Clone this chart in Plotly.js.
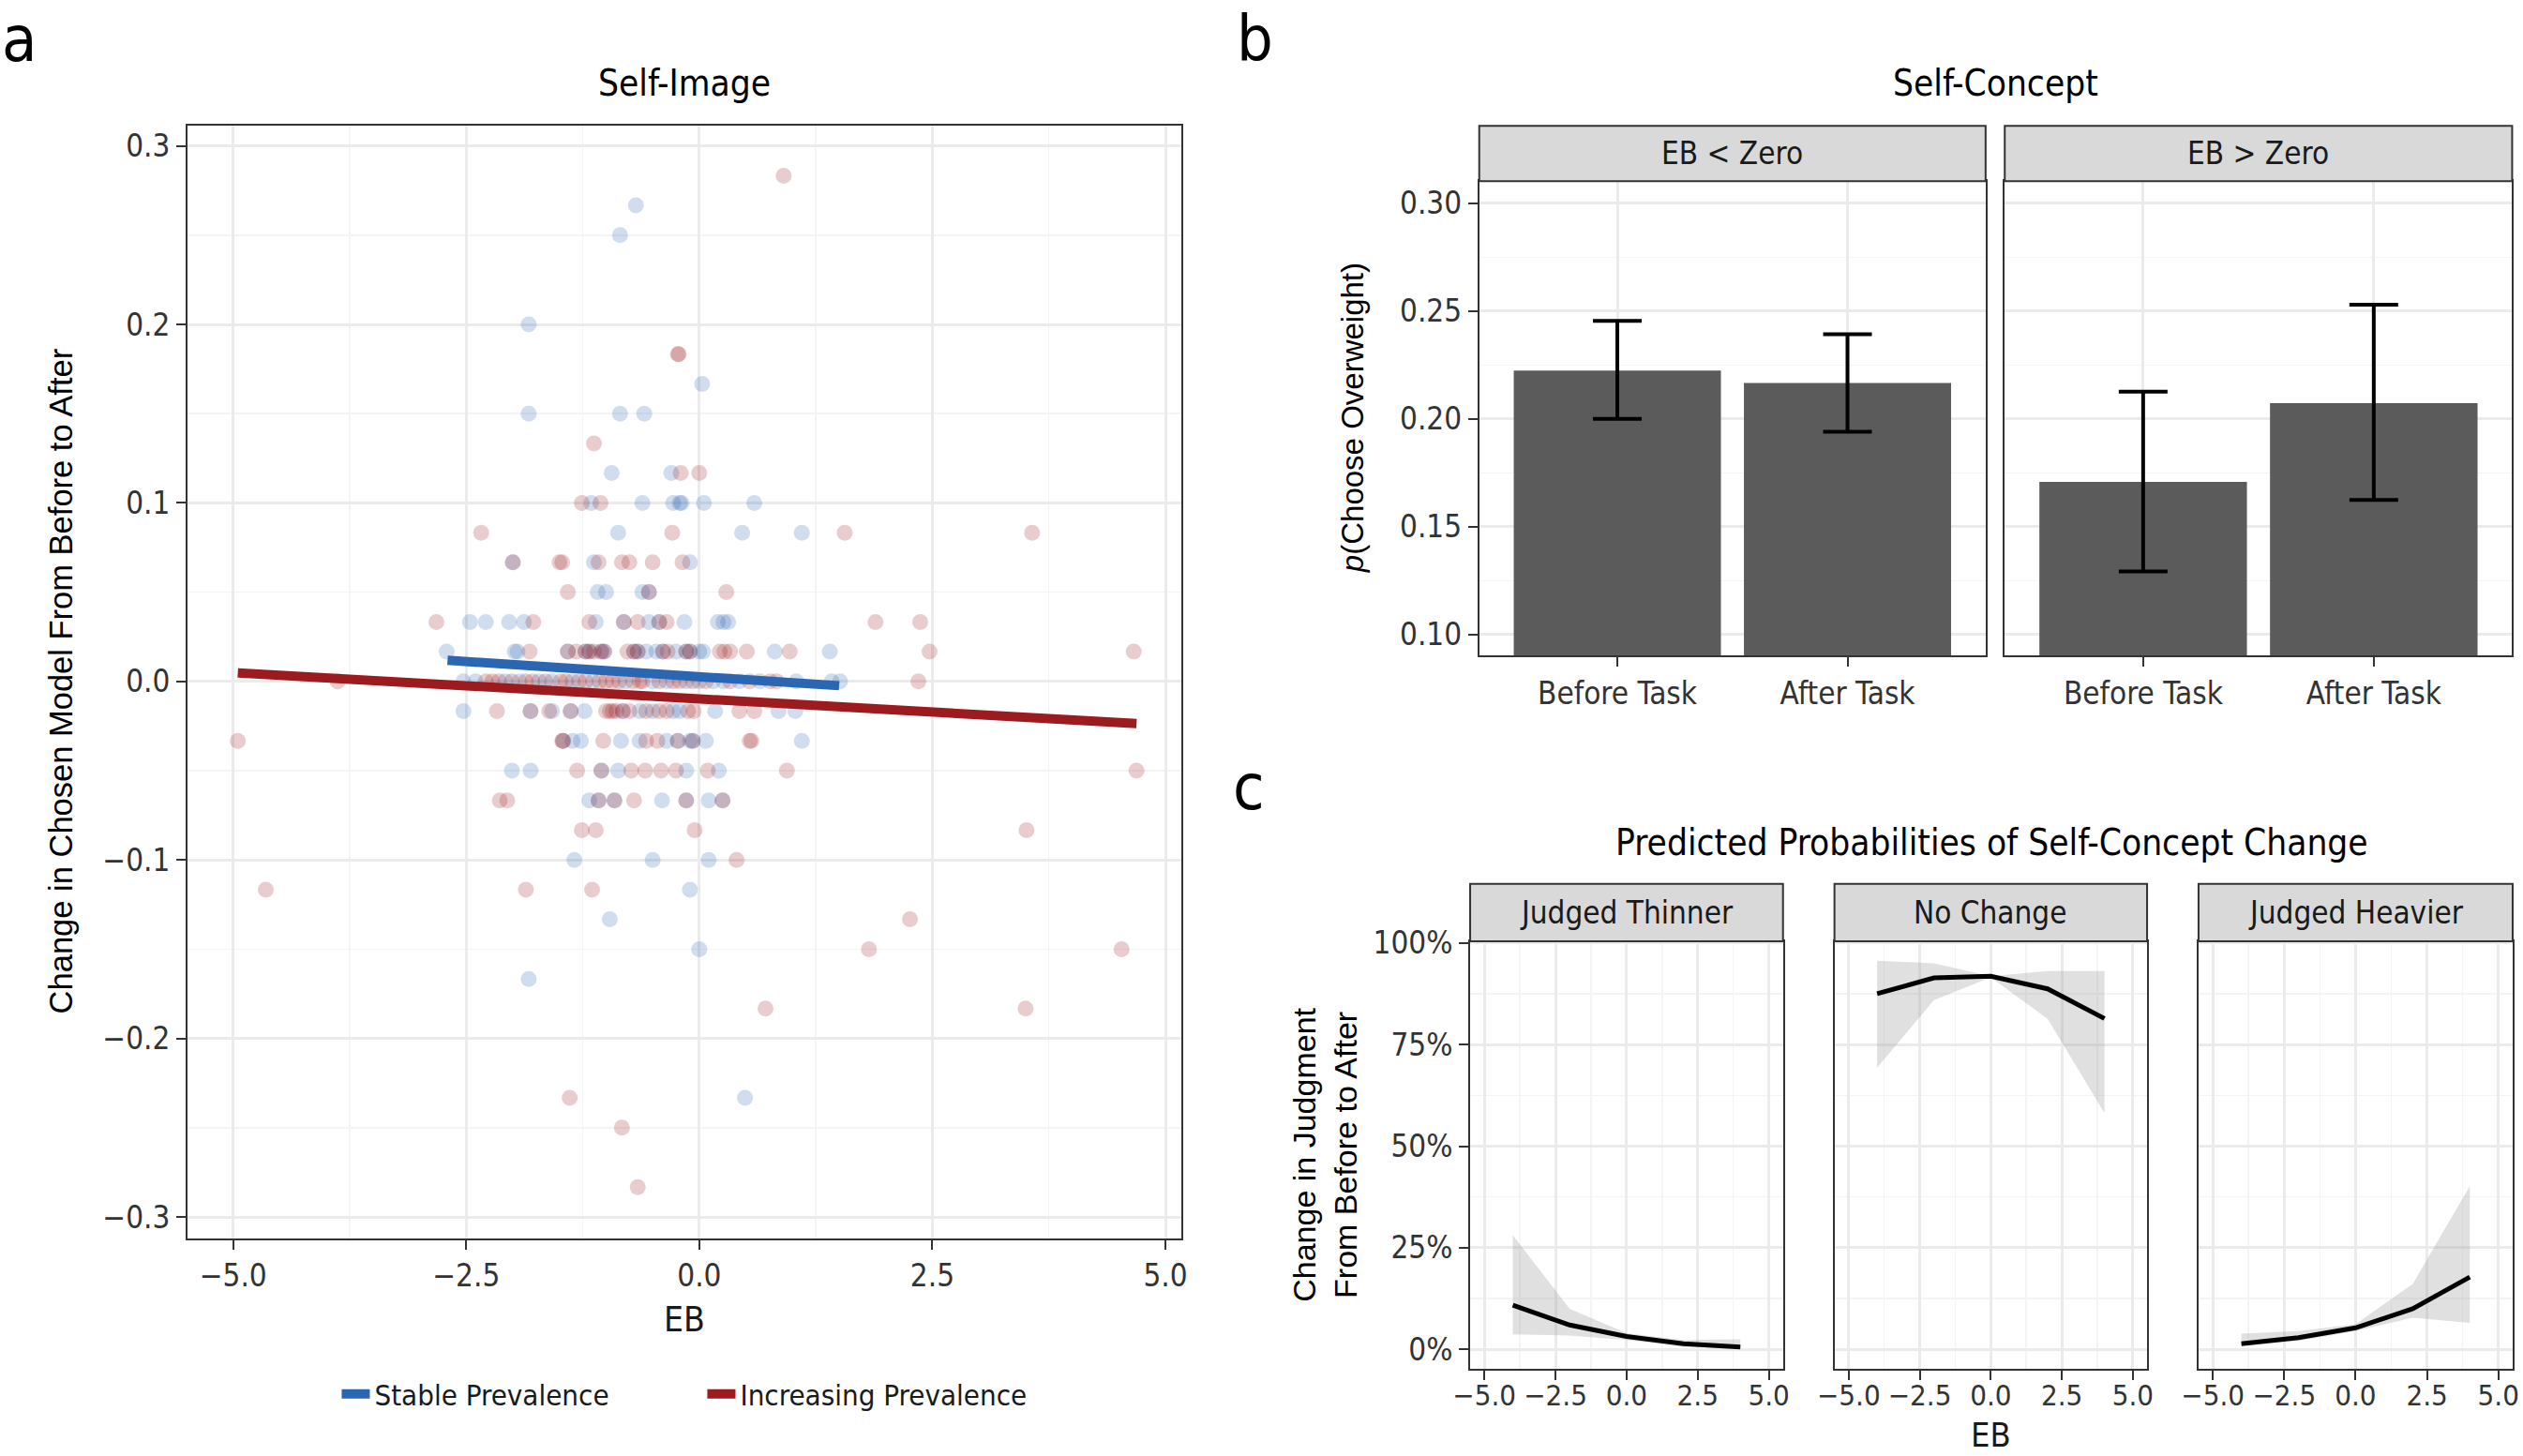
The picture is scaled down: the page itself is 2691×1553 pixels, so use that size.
<!DOCTYPE html>
<html>
<head>
<meta charset="utf-8">
<script src="https://cdn.plot.ly/plotly-3.0.1.min.js"></script>
<style>
  html, body { margin: 0; padding: 0; background: #fff; }
  #myDiv { width: 2691px; height: 1553px; }
</style>
</head>
<body>
<div id="myDiv"></div>
<script>
// ---- panel a : Self-Image scatter ----
// Stable Prevalence points (EB, change in chosen model)
var stableX = [
  -0.68, -0.85, -1.83, 0.03,
  -1.83, -0.85, -0.59,
  -0.94, -0.30,
  -1.16, -0.61, -0.28, -0.21, -0.19, 0.05, 0.59,
  -0.87, 0.46, 1.10,
  -2.00, -1.13, -0.10,
  -1.09, -1.00, -0.61, -0.54,
  -2.46, -2.29, -2.04, -1.88, -1.11, -0.81, -0.54, -0.43, -0.16, 0.20, 0.26, 0.31,
  -2.71, -1.95, -1.98, -1.41, -1.22, -1.18, -1.05, -1.02, -0.70, -0.66, -0.57, -0.46, -0.39, -0.25, -0.14, -0.10, 0.00, 0.04, 0.81, 1.40,
  -2.53, -2.40, -2.08, -1.93, -1.72, -1.58, -1.36, -1.14, -0.79, -0.50, -0.35, -0.14, 0.00, 0.15, 0.26, 0.43, 0.65, 1.04, 1.42, 1.51,
  -2.53, -1.81, -1.58, -1.38, -1.23, -0.82, -0.64, -0.50, -0.28, -0.21, 0.17, 0.85, 1.03,
  -1.46, -1.36, -1.27, -0.84, -0.64, -0.35, -0.23, -0.10, -0.07, 0.07, 1.10,
  -2.01, -1.81, -1.05, -0.87, -0.14, 0.21,
  -1.18, -1.08, -0.91, -0.40, -0.14, 0.10, 0.25,
  -1.34, -0.50, 0.10,
  -0.10, -0.96, 0.00, -1.83, 0.49
];
var stableY = [
  0.2667, 0.25, 0.2, 0.1667,
  0.15, 0.15, 0.15,
  0.1167, 0.1167,
  0.1, 0.1, 0.1, 0.1, 0.1, 0.1, 0.1,
  0.0833, 0.0833, 0.0833,
  0.0667, 0.0667, 0.0667,
  0.05, 0.05, 0.05, 0.05,
  0.0333, 0.0333, 0.0333, 0.0333, 0.0333, 0.0333, 0.0333, 0.0333, 0.0333, 0.0333, 0.0333, 0.0333,
  0.0167, 0.0167, 0.0167, 0.0167, 0.0167, 0.0167, 0.0167, 0.0167, 0.0167, 0.0167, 0.0167, 0.0167, 0.0167, 0.0167, 0.0167, 0.0167, 0.0167, 0.0167, 0.0167, 0.0167,
  0, 0, 0, 0, 0, 0, 0, 0, 0, 0, 0, 0, 0, 0, 0, 0, 0, 0, 0, 0,
  -0.0167, -0.0167, -0.0167, -0.0167, -0.0167, -0.0167, -0.0167, -0.0167, -0.0167, -0.0167, -0.0167, -0.0167, -0.0167,
  -0.0333, -0.0333, -0.0333, -0.0333, -0.0333, -0.0333, -0.0333, -0.0333, -0.0333, -0.0333, -0.0333,
  -0.05, -0.05, -0.05, -0.05, -0.05, -0.05,
  -0.0667, -0.0667, -0.0667, -0.0667, -0.0667, -0.0667, -0.0667,
  -0.1, -0.1, -0.1,
  -0.1167, -0.1333, -0.15, -0.1667, -0.2333
];

// Increasing Prevalence points
var increasingX = [
  0.905,
  -0.23, -0.22,
  -1.13,
  -0.20, 0.00,
  -1.26, -1.06,
  -2.34, -0.29, 1.56, 3.57,
  -2.00, -1.50, -1.47, -1.08, -0.83, -0.75, -0.50, -0.18,
  -1.41, -0.54, 0.29,
  -2.82, -1.78, -1.18, -0.81, -0.66, -0.43, -0.35, 1.89, 2.37,
  -1.82, -1.41, -1.32, -1.22, -1.18, -1.13, -1.05, -1.02, -0.77, -0.70, -0.66, -0.39, -0.34, -0.14, -0.10, 0.22, 0.27, 0.33, 0.51, 0.97, 2.47, 4.66,
  -3.88, -2.29, -2.22, -2.15, -2.01, -1.86, -1.79, -1.65, -1.49, -1.43, -1.29, -1.22, -1.07, -1.00, -0.93, -0.86, -0.71, -0.64, -0.61, -0.43, -0.28, -0.21, -0.07, 0.07, 0.33, 0.54, 0.76, 0.83, 2.35,
  -2.17, -1.81, -1.61, -1.38, -1.00, -0.96, -0.93, -0.89, -0.82, -0.75, -0.57, -0.43, -0.35, -0.12, -0.06, 0.43, 0.59,
  -4.95, -1.47, -1.46, -1.03, -0.57, -0.45, -0.23, -0.07, 0.54, 0.56,
  -1.31, -1.05, -0.73, -0.58, -0.41, -0.25, 0.09, 0.94, 4.69,
  -2.14, -2.06, -1.08, -0.91, -0.70, -0.14, 0.25,
  -1.26, -1.11, -0.05, 3.51,
  0.40,
  -4.65, -1.86, -1.15,
  2.26,
  1.82, 4.53,
  0.71, 3.50,
  -1.39, -0.83, -0.66
];
var increasingY = [
  0.2833,
  0.1833, 0.1833,
  0.1333,
  0.1167, 0.1167,
  0.1, 0.1,
  0.0833, 0.0833, 0.0833, 0.0833,
  0.0667, 0.0667, 0.0667, 0.0667, 0.0667, 0.0667, 0.0667, 0.0667,
  0.05, 0.05, 0.05,
  0.0333, 0.0333, 0.0333, 0.0333, 0.0333, 0.0333, 0.0333, 0.0333, 0.0333,
  0.0167, 0.0167, 0.0167, 0.0167, 0.0167, 0.0167, 0.0167, 0.0167, 0.0167, 0.0167, 0.0167, 0.0167, 0.0167, 0.0167, 0.0167, 0.0167, 0.0167, 0.0167, 0.0167, 0.0167, 0.0167, 0.0167,
  0, 0, 0, 0, 0, 0, 0, 0, 0, 0, 0, 0, 0, 0, 0, 0, 0, 0, 0, 0, 0, 0, 0, 0, 0, 0, 0, 0, 0,
  -0.0167, -0.0167, -0.0167, -0.0167, -0.0167, -0.0167, -0.0167, -0.0167, -0.0167, -0.0167, -0.0167, -0.0167, -0.0167, -0.0167, -0.0167, -0.0167, -0.0167,
  -0.0333, -0.0333, -0.0333, -0.0333, -0.0333, -0.0333, -0.0333, -0.0333, -0.0333, -0.0333,
  -0.05, -0.05, -0.05, -0.05, -0.05, -0.05, -0.05, -0.05, -0.05,
  -0.0667, -0.0667, -0.0667, -0.0667, -0.0667, -0.0667, -0.0667,
  -0.0833, -0.0833, -0.0833, -0.0833,
  -0.1,
  -0.1167, -0.1167, -0.1167,
  -0.1333,
  -0.15, -0.15,
  -0.1833, -0.1833,
  -0.2333, -0.25, -0.2833
];

// fitted regression lines (end points)
var fitStableX = [-2.70, 1.50];
var fitStableY = [0.0118, -0.0024];
var fitIncreasingX = [-4.95, 4.69];
var fitIncreasingY = [0.0048, -0.0236];

// ---- panel b : Self-Concept bars ----
var taskLabels = ['Before Task', 'After Task'];
var pBelowZero = [0.2224, 0.2167];
var ciLowBelowZero = [0.2000, 0.1941];
var ciHighBelowZero = [0.2455, 0.2393];
var pAboveZero = [0.1708, 0.2073];
var ciLowAboveZero = [0.1293, 0.1624];
var ciHighAboveZero = [0.2127, 0.2530];

// ---- panel c : predicted probabilities ----
var ebGrid = [-4, -2, 0, 2, 4];
var thinnerFit = [0.109, 0.060, 0.032, 0.014, 0.006];
var thinnerLow = [0.037, 0.034, 0.023, 0.006, 0.003];
var thinnerHigh = [0.281, 0.100, 0.040, 0.023, 0.025];
var noChangeFit = [0.875, 0.914, 0.918, 0.887, 0.814];
var noChangeLow = [0.693, 0.859, 0.915, 0.813, 0.582];
var noChangeHigh = [0.956, 0.950, 0.918, 0.931, 0.931];
var heavierFit = [0.014, 0.029, 0.053, 0.100, 0.178];
var heavierLow = [0.010, 0.021, 0.045, 0.078, 0.065];
var heavierHigh = [0.039, 0.045, 0.062, 0.161, 0.402];

var narrow = "'DejaVu Sans Condensed', 'Liberation Sans Narrow', sans-serif";
var regular = "'Liberation Sans', Arial, sans-serif";
var ink = '#1a1a1a';
var blue = '#2B66B3';
var red = '#9B1B1E';

function diff(a, b) { return a.map(function (v, i) { return v - b[i]; }); }

var data = [
  { x: stableX, y: stableY, xaxis: 'x', yaxis: 'y', type: 'scatter', mode: 'markers',
    marker: { size: 17, color: 'rgba(43,102,179,0.22)' }, showlegend: false, hoverinfo: 'skip' },
  { x: increasingX, y: increasingY, xaxis: 'x', yaxis: 'y', type: 'scatter', mode: 'markers',
    marker: { size: 17, color: 'rgba(155,27,30,0.22)' }, showlegend: false, hoverinfo: 'skip' },
  { x: fitStableX, y: fitStableY, xaxis: 'x', yaxis: 'y', type: 'scatter', mode: 'lines',
    name: 'Stable Prevalence', line: { color: blue, width: 10 } },
  { x: fitIncreasingX, y: fitIncreasingY, xaxis: 'x', yaxis: 'y', type: 'scatter', mode: 'lines',
    name: 'Increasing Prevalence', line: { color: red, width: 10 } },

  { x: taskLabels, y: pBelowZero, xaxis: 'x2', yaxis: 'y2', type: 'bar', width: 0.9,
    marker: { color: '#5A5B5A' }, showlegend: false,
    error_y: { type: 'data', array: diff(ciHighBelowZero, pBelowZero), arrayminus: diff(pBelowZero, ciLowBelowZero),
      color: '#000', thickness: 4, width: 26 } },
  { x: taskLabels, y: pAboveZero, xaxis: 'x3', yaxis: 'y3', type: 'bar', width: 0.9,
    marker: { color: '#5A5B5A' }, showlegend: false,
    error_y: { type: 'data', array: diff(ciHighAboveZero, pAboveZero), arrayminus: diff(pAboveZero, ciLowAboveZero),
      color: '#000', thickness: 4, width: 26 } }
];

var facets = [
  { ax: '4', fit: thinnerFit, low: thinnerLow, high: thinnerHigh },
  { ax: '5', fit: noChangeFit, low: noChangeLow, high: noChangeHigh },
  { ax: '6', fit: heavierFit, low: heavierLow, high: heavierHigh }
];
facets.forEach(function (f) {
  data.push({ x: ebGrid, y: f.low, xaxis: 'x' + f.ax, yaxis: 'y' + f.ax, type: 'scatter', mode: 'lines',
    line: { width: 0 }, showlegend: false, hoverinfo: 'skip' });
  data.push({ x: ebGrid, y: f.high, xaxis: 'x' + f.ax, yaxis: 'y' + f.ax, type: 'scatter', mode: 'lines',
    line: { width: 0 }, fill: 'tonexty', fillcolor: 'rgba(153,153,153,0.3)', showlegend: false, hoverinfo: 'skip' });
  data.push({ x: ebGrid, y: f.fit, xaxis: 'x' + f.ax, yaxis: 'y' + f.ax, type: 'scatter', mode: 'lines',
    line: { color: '#000', width: 5 }, showlegend: false });
});

function axis(extra) {
  var a = {
    showline: true, mirror: true, linecolor: '#333', linewidth: 2,
    ticks: 'outside', ticklen: 10, tickwidth: 2, tickcolor: '#333', tickangle: 0,
    showgrid: true, gridcolor: '#EBEBEB', gridwidth: 3, zeroline: false,
    tickfont: { family: narrow, size: 33, color: '#333' }
  };
  for (var k in extra) a[k] = extra[k];
  return a;
}
var minorGrid = function (d) { return { dtick: d, showgrid: true, gridcolor: '#F4F4F4', gridwidth: 1.5, ticks: '' }; };
var cTickFont = { family: narrow, size: 31, color: '#333' };

var layout = {
  width: 2691, height: 1553,
  margin: { l: 0, r: 0, t: 0, b: 0 },
  paper_bgcolor: '#fff', plot_bgcolor: '#fff',
  font: { family: narrow, color: ink },
  showlegend: true,
  legend: { orientation: 'h', traceorder: 'normal', x: 0.2785, xanchor: 'center', y: 0.0425, yanchor: 'middle',
    font: { family: narrow, size: 31, color: ink }, entrywidth: 345, entrywidthmode: 'pixels' },

  xaxis: axis({ domain: [0.0743, 0.4682], range: [-5.49, 5.17], dtick: 2.5, tick0: 0, tickformat: '.1f',
    minor: minorGrid(1.25), anchor: 'y' }),
  yaxis: axis({ domain: [0.1496, 0.9139], range: [-0.3119, 0.3115], dtick: 0.1, tick0: 0, tickformat: '.1f',
    minor: minorGrid(0.05), anchor: 'x' }),

  xaxis2: axis({ domain: [0.5863, 0.7870], range: [-0.6, 1.6], type: 'category', anchor: 'y2' }),
  yaxis2: axis({ domain: [0.5499, 0.8755], range: [0.0904, 0.3102], dtick: 0.05, tick0: 0, tickformat: '.2f',
    minor: minorGrid(0.025), anchor: 'x2' }),
  xaxis3: axis({ domain: [0.7946, 0.9957], range: [-0.6, 1.6], type: 'category', anchor: 'y3' }),
  yaxis3: axis({ domain: [0.5499, 0.8755], range: [0.0904, 0.3102], dtick: 0.05, tick0: 0,
    minor: minorGrid(0.025), showticklabels: false, ticks: '', anchor: 'x3' }),

  xaxis4: axis({ domain: [0.5827, 0.7067], range: [-5.5, 5.5], dtick: 2.5, tick0: 0, tickformat: '.1f',
    minor: minorGrid(1.25), tickfont: cTickFont, ticklabelstandoff: -10, anchor: 'y4' }),
  yaxis4: axis({ domain: [0.0601, 0.3535], range: [-0.047, 1.004], dtick: 0.25, tick0: 0, tickformat: '.0%',
    minor: minorGrid(0.125), anchor: 'x4' }),
  xaxis5: axis({ domain: [0.7271, 0.8510], range: [-5.5, 5.5], dtick: 2.5, tick0: 0, tickformat: '.1f',
    minor: minorGrid(1.25), tickfont: cTickFont, ticklabelstandoff: -10, anchor: 'y5' }),
  yaxis5: axis({ domain: [0.0601, 0.3535], range: [-0.047, 1.004], dtick: 0.25, tick0: 0,
    minor: minorGrid(0.125), showticklabels: false, ticks: '', anchor: 'x5' }),
  xaxis6: axis({ domain: [0.8714, 0.9959], range: [-5.5, 5.5], dtick: 2.5, tick0: 0, tickformat: '.1f',
    minor: minorGrid(1.25), tickfont: cTickFont, ticklabelstandoff: -10, anchor: 'y6' }),
  yaxis6: axis({ domain: [0.0601, 0.3535], range: [-0.047, 1.004], dtick: 0.25, tick0: 0,
    minor: minorGrid(0.125), showticklabels: false, ticks: '', anchor: 'x6' }),

  shapes: [
    // facet strips
    { type: 'rect', xref: 'paper', yref: 'paper', x0: 0.5863, x1: 0.7870, y0: 0.8755, y1: 0.9136,
      fillcolor: '#D9D9D9', line: { color: '#333', width: 2 } },
    { type: 'rect', xref: 'paper', yref: 'paper', x0: 0.7946, x1: 0.9957, y0: 0.8755, y1: 0.9136,
      fillcolor: '#D9D9D9', line: { color: '#333', width: 2 } },
    { type: 'rect', xref: 'paper', yref: 'paper', x0: 0.5827, x1: 0.7067, y0: 0.3535, y1: 0.3929,
      fillcolor: '#D9D9D9', line: { color: '#333', width: 2 } },
    { type: 'rect', xref: 'paper', yref: 'paper', x0: 0.7271, x1: 0.8510, y0: 0.3535, y1: 0.3929,
      fillcolor: '#D9D9D9', line: { color: '#333', width: 2 } },
    { type: 'rect', xref: 'paper', yref: 'paper', x0: 0.8714, x1: 0.9959, y0: 0.3535, y1: 0.3929,
      fillcolor: '#D9D9D9', line: { color: '#333', width: 2 } }
  ],

  annotations: [
    // panel letters
    { text: 'a', xref: 'paper', yref: 'paper', x: 0.0, y: 1, xanchor: 'left', yanchor: 'top',
      showarrow: false, font: { family: narrow, size: 68, color: '#000' } },
    { text: 'b', xref: 'paper', yref: 'paper', x: 0.4894, y: 1, xanchor: 'left', yanchor: 'top',
      showarrow: false, font: { family: narrow, size: 68, color: '#000' } },
    { text: 'c', xref: 'paper', yref: 'paper', x: 0.488, y: 0.4862, xanchor: 'left', yanchor: 'top',
      showarrow: false, font: { family: narrow, size: 68, color: '#000' } },
    // panel titles
    { text: 'Self-Image', xref: 'paper', yref: 'paper', x: 0.2713, y: 0.9427, xanchor: 'center', yanchor: 'middle',
      showarrow: false, font: { family: narrow, size: 38.5, color: '#000' } },
    { text: 'Self-Concept', xref: 'paper', yref: 'paper', x: 0.7911, y: 0.9427, xanchor: 'center', yanchor: 'middle',
      showarrow: false, font: { family: narrow, size: 38.5, color: '#000' } },
    { text: 'Predicted Probabilities of Self-Concept Change', xref: 'paper', yref: 'paper', x: 0.7893, y: 0.4214,
      xanchor: 'center', yanchor: 'middle', showarrow: false, font: { family: narrow, size: 38.5, color: '#000' } },
    // strip labels
    { text: 'EB &lt; Zero', xref: 'paper', yref: 'paper', x: 0.6867, y: 0.8946, xanchor: 'center', yanchor: 'middle',
      showarrow: false, font: { family: narrow, size: 33, color: ink } },
    { text: 'EB &gt; Zero', xref: 'paper', yref: 'paper', x: 0.8952, y: 0.8946, xanchor: 'center', yanchor: 'middle',
      showarrow: false, font: { family: narrow, size: 33, color: ink } },
    { text: 'Judged Thinner', xref: 'paper', yref: 'paper', x: 0.6447, y: 0.3732, xanchor: 'center', yanchor: 'middle',
      showarrow: false, font: { family: narrow, size: 33, color: ink } },
    { text: 'No Change', xref: 'paper', yref: 'paper', x: 0.7891, y: 0.3732, xanchor: 'center', yanchor: 'middle',
      showarrow: false, font: { family: narrow, size: 33, color: ink } },
    { text: 'Judged Heavier', xref: 'paper', yref: 'paper', x: 0.9337, y: 0.3732, xanchor: 'center', yanchor: 'middle',
      showarrow: false, font: { family: narrow, size: 33, color: ink } },
    // axis titles
    { text: 'EB', xref: 'paper', yref: 'paper', x: 0.2713, y: 0.094, xanchor: 'center', yanchor: 'middle',
      showarrow: false, font: { family: narrow, size: 37, color: ink } },
    { text: 'EB', xref: 'paper', yref: 'paper', x: 0.789, y: 0.0, xanchor: 'center', yanchor: 'bottom',
      showarrow: false, font: { family: narrow, size: 36, color: ink } },
    { text: 'Change in Chosen Model From Before to After', xref: 'paper', yref: 'paper', x: 0.024, y: 0.532,
      xanchor: 'center', yanchor: 'middle', textangle: -90, showarrow: false,
      font: { family: regular, size: 34.5, color: '#000' } },
    { text: '<i>p</i>(Choose Overweight)', xref: 'paper', yref: 'paper', x: 0.5359, y: 0.7128,
      xanchor: 'center', yanchor: 'middle', textangle: -90, showarrow: false,
      font: { family: regular, size: 33, color: '#000' } },
    { text: 'Change in Judgment<br>From Before to After', xref: 'paper', yref: 'paper', x: 0.525, y: 0.2067,
      xanchor: 'center', yanchor: 'middle', textangle: -90, showarrow: false,
      font: { family: regular, size: 34, color: '#000' } }
  ]
};

Plotly.newPlot('myDiv', data, layout, { displayModeBar: false, staticPlot: true });
</script>
</body>
</html>
